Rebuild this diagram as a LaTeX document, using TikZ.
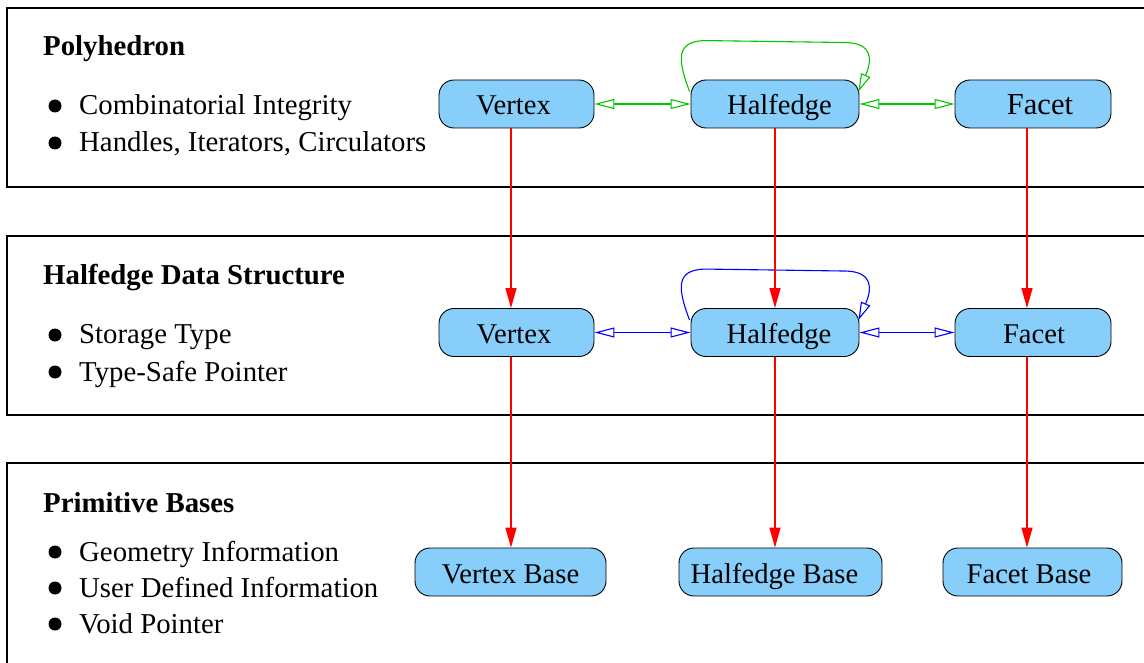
\documentclass[tikz,border=0pt]{standalone}
\usepackage{fontspec}
\setmainfont{Liberation Serif}
\usetikzlibrary{arrows.meta,calc}
\definecolor{boxfill}{RGB}{135,206,250}
\definecolor{linkgreen}{RGB}{0,200,0}
\definecolor{linkblue}{RGB}{0,0,255}
\definecolor{linkred}{RGB}{255,0,0}
% label set off-centre inside its box by half of #1
\newcommand{\offsetlabel}[2]{\hbox to 0pt{\hss\kern#1\relax#2\hss}}
\tikzset{
  layer/.style={draw=black,line width=2pt},
  item/.style={anchor=base west,inner sep=0pt,font=\fontsize{28.8}{34}\selectfont},
  heading/.style={anchor=base west,inner sep=0pt,font=\fontsize{28.8}{34}\selectfont\bfseries},
  entity/.style={draw=black,fill=boxfill,line width=0.9pt,rounded corners=15pt,
    inner ysep=0pt,inner xsep=0pt,text height=35pt,text depth=13pt,
    font=\fontsize{28.6}{34}\selectfont},
  owns/.style={draw=linkred,fill=linkred,line width=1.2pt,-{Triangle[length=20pt,width=11pt]}},
  greenlink/.style={draw=linkgreen,line width=1.1pt,{Triangle[open,length=20pt,width=10pt]}-{Triangle[open,length=20pt,width=10pt]}},
  bluelink/.style={draw=linkblue,line width=1.1pt,{Triangle[open,length=20pt,width=10pt]}-{Triangle[open,length=20pt,width=10pt]}},
  greenloop/.style={draw=linkgreen,line width=1.1pt,-{Triangle[open,length=18pt,width=10pt]}},
  blueloop/.style={draw=linkblue,line width=1.1pt,-{Triangle[open,length=18pt,width=10pt]}},
}
\begin{document}
\begin{tikzpicture}[x=1pt,y=-1pt]
\useasboundingbox (0,0) rectangle (1144,663);

% the three layers
\draw[layer] (7,8) rectangle (1170,187);
\draw[layer] (7,236) rectangle (1170,415);
\draw[layer] (7,463) rectangle (1170,690);

% layer captions and bullet lists
\node[heading] (hPoly) at (43,56) {Polyhedron};
\fill (55,106) circle (6.5);
\node[item] (iComb) at (79,115) {Combinatorial Integrity};
\fill (55,143) circle (6.5);
\node[item] (iHand) at (79,152) {Handles, Iterators, Circulators};

\node[heading] (hHds) at (43,284) {Halfedge Data Structure};
\fill (55,335) circle (6.5);
\node[item] (iStor) at (79,344) {Storage Type};
\fill (55,372) circle (6.5);
\node[item] (iPtr) at (79,381) {Type-Safe Pointer};

\node[heading] (hPrim) at (43,512) {Primitive Bases};
\fill (55,552) circle (6.5);
\node[item] (iGeo) at (79,561) {Geometry Information};
\fill (55,588) circle (6.5);
\node[item] (iUser) at (79,597) {User Defined Information};
\fill (55,624) circle (6.5);
\node[item] (iVoid) at (79,633) {Void Pointer};

% polyhedron items
\node[entity,minimum width=155pt] (tV) at (516.5,104) {\offsetlabel{-6pt}{Vertex}};
\node[entity,minimum width=168pt] (tH) at (775,104) {\offsetlabel{9pt}{Halfedge}};
\node[entity,minimum width=156pt,font=\fontsize{30.5}{36}\selectfont] (tF) at (1033,104) {\offsetlabel{14pt}{Facet}};

% halfedge data structure items
\node[entity,minimum width=155pt] (mV) at (516.5,332.5) {\offsetlabel{-5pt}{Vertex}};
\node[entity,minimum width=168pt] (mH) at (775,332.5) {\offsetlabel{8pt}{Halfedge}};
\node[entity,minimum width=156pt] (mF) at (1033,332.5) {\offsetlabel{2pt}{Facet}};

% base classes
\node[entity,minimum width=191pt] (bV) at (510.5,572) {Vertex Base};
\node[entity,minimum width=203pt] (bH) at (780.5,572) {\offsetlabel{-12pt}{Halfedge Base}};
\node[entity,minimum width=179pt] (bF) at (1032.5,572) {\offsetlabel{-7pt}{Facet Base}};

% incidences within the polyhedron layer
\draw[greenlink] (tV.east) -- (tH.west);
\draw[greenlink] (tH.east) -- (tF.west);
\draw[greenloop] ($(tH.north west)+(-1,12)$)
  .. controls ($(tH.north west)+(-13,-20)$) and ($(tH.north west)+(-15,-38)$) .. ($(tH.north west)+(14,-39)$)
  -- ($(tH.north east)+(-13,-37)$)
  .. controls ($(tH.north east)+(13,-36)$) and ($(tH.north east)+(13,-20)$) .. ($(tH.north east)+(-1,12)$);

% incidences within the halfedge data structure layer
\draw[bluelink] (mV.east) -- (mH.west);
\draw[bluelink] (mH.east) -- (mF.west);
\draw[blueloop] ($(mH.north west)+(-1,12)$)
  .. controls ($(mH.north west)+(-13,-20)$) and ($(mH.north west)+(-15,-38)$) .. ($(mH.north west)+(14,-39)$)
  -- ($(mH.north east)+(-13,-37)$)
  .. controls ($(mH.north east)+(13,-36)$) and ($(mH.north east)+(13,-20)$) .. ($(mH.north east)+(-1,12)$);

% derivation between layers
\draw[owns] ([xshift=-5.5pt]tV.south) -- ([xshift=-5.5pt]mV.north);
\draw[owns] (tH.south) -- (mH.north);
\draw[owns] ([xshift=-6pt]tF.south) -- ([xshift=-6pt]mF.north);
\draw[owns] ([xshift=-5.5pt]mV.south) -- ([xshift=0.5pt]bV.north);
\draw[owns] (mH.south) -- ([xshift=-5.5pt]bH.north);
\draw[owns] ([xshift=-6pt]mF.south) -- ([xshift=-5.5pt]bF.north);
\end{tikzpicture}
\end{document}
